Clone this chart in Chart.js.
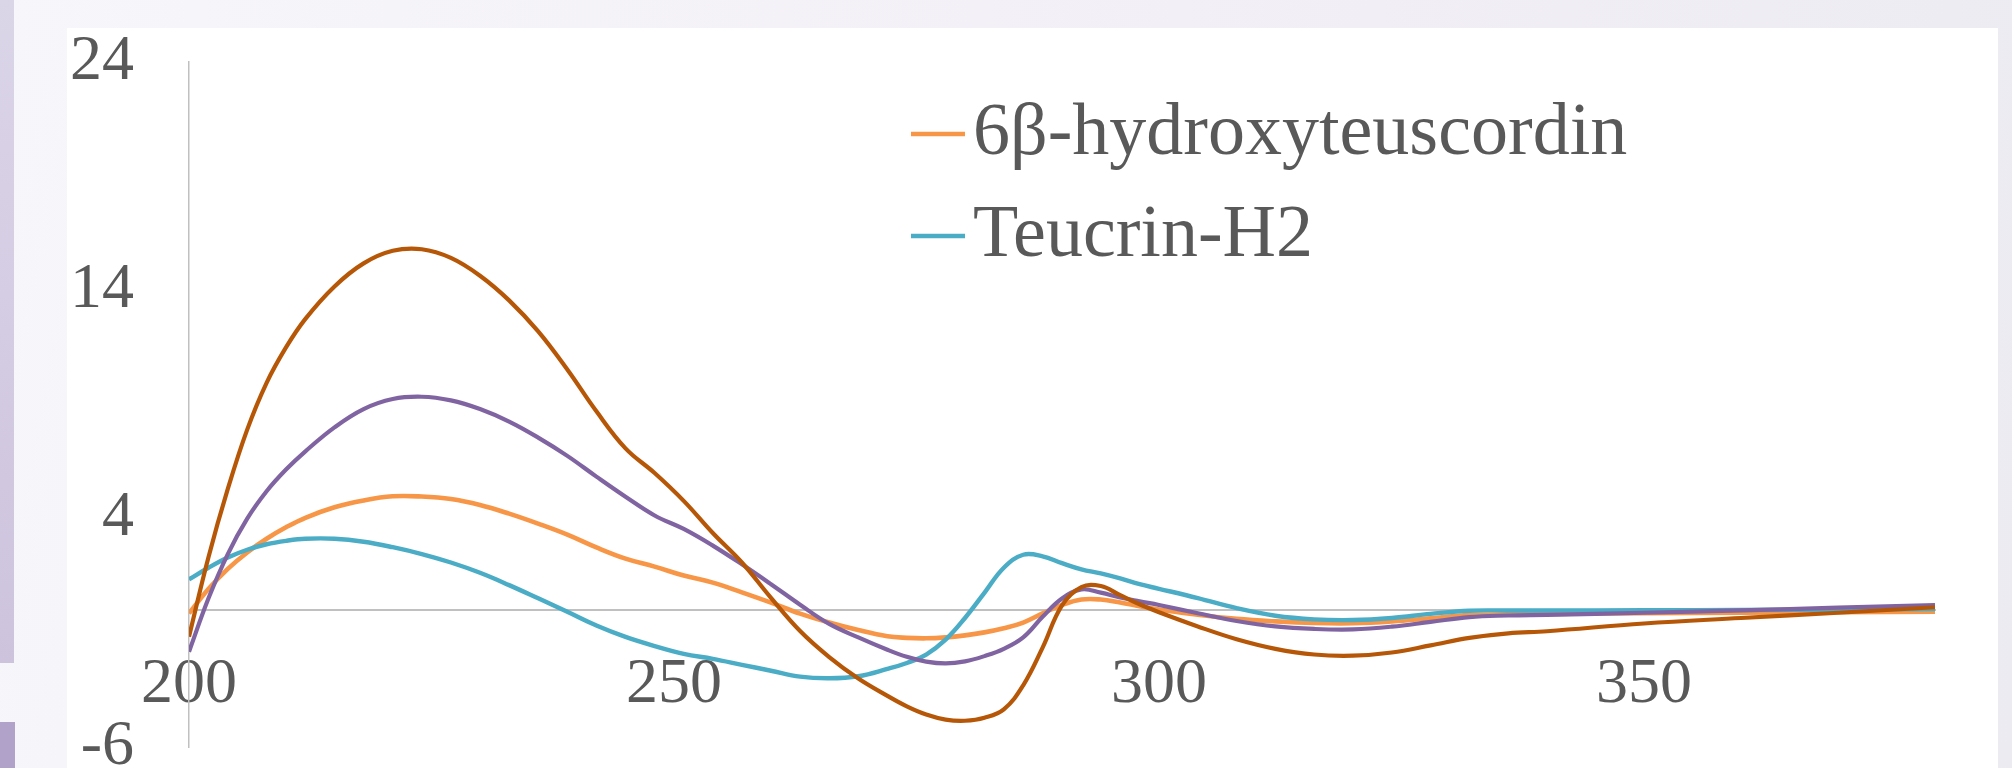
<!DOCTYPE html>
<html><head><meta charset="utf-8">
<script src="https://cdn.jsdelivr.net/npm/chart.js@4.4.1/dist/chart.umd.min.js"></script>
<style>
html,body{margin:0;padding:0;width:2012px;height:768px;overflow:hidden;}
body{background:linear-gradient(100deg,#f7f6fa 0%,#f2f0f6 55%,#edebf2 100%);position:relative;}
#stripTop{position:absolute;left:0;top:0;width:14px;height:663px;background:linear-gradient(180deg,#dbd5e8,#cdc3dd);}
#stripBot{position:absolute;left:0;top:722px;width:15px;height:46px;background:#b0a2c9;}
#panel{position:absolute;left:67px;top:28px;width:1931px;height:740px;background:#ffffff;}
#wrap{position:absolute;left:0;top:0;width:2012px;height:768px;}
</style></head><body>
<div id="stripTop"></div><div id="stripBot"></div><div id="panel"></div>
<div id="wrap"><canvas id="c" width="2012" height="768"></canvas></div>
<script>
const wavelengths = [200,202,204,206,208,210,212,215,218,221,224,227,230,233,236,239,242,245,248,251,254,257,260,263,266,269,272,274,276,278,280,282,284,286,288,290,292,294,296,298,300,304,308,312,316,320,324,328,332,336,340,350,360,370,380];

const hydroxyteuscordin = [-0.15,0.92,1.8,2.52,3.12,3.62,4.04,4.5,4.8,4.98,4.97,4.86,4.6,4.22,3.78,3.3,2.74,2.25,1.9,1.51,1.2,0.77,0.32,-0.16,-0.55,-0.88,-1.15,-1.22,-1.24,-1.2,-1.11,-0.98,-0.8,-0.55,-0.15,0.22,0.46,0.46,0.33,0.17,0.02,-0.21,-0.39,-0.5,-0.57,-0.58,-0.5,-0.36,-0.22,-0.19,-0.17,-0.14,-0.12,-0.1,-0.07];

const teucrinH2 = [1.34,1.85,2.3,2.64,2.88,3.03,3.12,3.12,2.99,2.75,2.45,2.08,1.63,1.09,0.51,-0.08,-0.68,-1.18,-1.58,-1.92,-2.14,-2.4,-2.66,-2.92,-2.99,-2.9,-2.58,-2.32,-1.95,-1.3,-0.35,0.75,1.85,2.42,2.35,2.05,1.78,1.6,1.38,1.13,0.93,0.52,0.08,-0.25,-0.41,-0.44,-0.35,-0.17,-0.03,-0.02,-0.02,-0.01,0.0,0.02,0.04];

const series3 = [-1.83,0.5,2.45,4.0,5.2,6.15,6.95,8.0,8.8,9.24,9.34,9.18,8.8,8.25,7.55,6.75,5.84,4.96,4.14,3.55,2.82,2.0,1.13,0.23,-0.61,-1.2,-1.74,-2.05,-2.26,-2.34,-2.25,-2.02,-1.7,-1.2,-0.3,0.5,0.9,0.76,0.55,0.38,0.22,-0.14,-0.48,-0.72,-0.83,-0.85,-0.73,-0.52,-0.31,-0.24,-0.21,-0.12,-0.02,0.1,0.22];

const series4 = [-1.17,2.3,5.3,7.9,9.95,11.5,12.75,14.17,15.18,15.73,15.8,15.42,14.64,13.56,12.2,10.53,8.7,7.08,6.0,4.78,3.37,2.08,0.53,-0.92,-2.06,-3.0,-3.76,-4.22,-4.58,-4.8,-4.85,-4.72,-4.35,-3.3,-1.65,0.2,1.0,1.05,0.65,0.25,-0.1,-0.72,-1.28,-1.7,-1.95,-2.0,-1.86,-1.55,-1.22,-1.02,-0.93,-0.59,-0.35,-0.12,0.12];

const seriesNames = ['6β-hydroxyteuscordin','Teucrin-H2','Series3','Series4'];
const seriesColors = ['#F79646','#4BACC6','#8064A2','#B65708'];
const seriesWidths = [4.6,4.4,4.2,4.2];
const xTickValues = [200,250,300,350];
const yTickValues = [-6,4,14,24];

const FONT = "'Liberation Serif','Times New Roman',serif";
const TEXT = '#595959';
const AXIS = '#C0C0C0';

function pts(vals){ return wavelengths.map((w,i)=>({x:w,y:vals[i]})); }

function markerImage(color){
  const c = document.createElement('canvas');
  c.width = 112; c.height = 10;
  const g = c.getContext('2d');
  g.strokeStyle = color; g.lineWidth = 4.5; g.lineCap = 'butt';
  g.beginPath(); g.moveTo(58,4); g.lineTo(112,4); g.stroke();
  return c;
}

function ds(i, vals){
  return {label: seriesNames[i], data: pts(vals), borderColor: seriesColors[i], backgroundColor: seriesColors[i],
    borderWidth: seriesWidths[i], pointRadius: 0, pointHoverRadius: 0, fill: false,
    tension: 0.4};
}

const legendPlace = {
  id: 'legendPlace',
  afterLayout(chart){
    const lg = chart.legend;
    if (!lg) return;
    lg.left = 854; lg.top = 70;
  }
};

const markers = [markerImage(seriesColors[3]), markerImage(seriesColors[2]), markerImage(seriesColors[1]), markerImage(seriesColors[0])];

new Chart(document.getElementById('c'), {
  type: 'line',
  data: {
    datasets: [
      ds(3, series4),
      ds(2, series3),
      ds(1, teucrinH2),
      ds(0, hydroxyteuscordin)
    ]
  },
  options: {
    responsive: false,
    animation: false,
    devicePixelRatio: 1,
    layout: {padding: {left: 0, top: 62, right: 77, bottom: 21}},
    plugins: {
      tooltip: {enabled: false},
      legend: {
        position: 'chartArea',
        align: 'start',
        reverse: true,
        labels: {
          usePointStyle: true,
          pointStyleWidth: 54,
          padding: 28,
          color: TEXT,
          font: {family: FONT, size: 74},
          filter: (item) => item.datasetIndex >= 2,
          generateLabels: (chart) => {
            const items = Chart.defaults.plugins.legend.labels.generateLabels(chart);
            items.forEach(it => { it.pointStyle = markers[it.datasetIndex]; });
            return items;
          }
        }
      }
    },
    scales: {
      x: {
        type: 'linear', min: 200, max: 380,
        position: {y: 0},
        grid: {display: false, drawTicks: false},
        border: {display: true, color: AXIS, width: 2},
        ticks: {color: TEXT, font: {family: FONT, size: 64}, padding: 37, maxRotation: 0, autoSkip: false},
        afterBuildTicks: (s) => { s.ticks = xTickValues.map(v => ({value: v})); },
        afterFit: (s) => { s.paddingLeft = 0; s.paddingRight = 0; }
      },
      y: {
        type: 'linear', min: -6, max: 24, position: 'left',
        grid: {display: false, drawTicks: false},
        border: {display: true, color: AXIS, width: 1.5},
        ticks: {color: TEXT, font: {family: FONT, size: 64}, padding: 55, autoSkip: false},
        afterBuildTicks: (s) => { s.ticks = yTickValues.map(v => ({value: v})); },
        afterFit: (s) => { s.width = 189; s.paddingTop = 0; s.paddingBottom = 0; }
      }
    }
  },
  plugins: [legendPlace]
});
</script>
</body></html>
